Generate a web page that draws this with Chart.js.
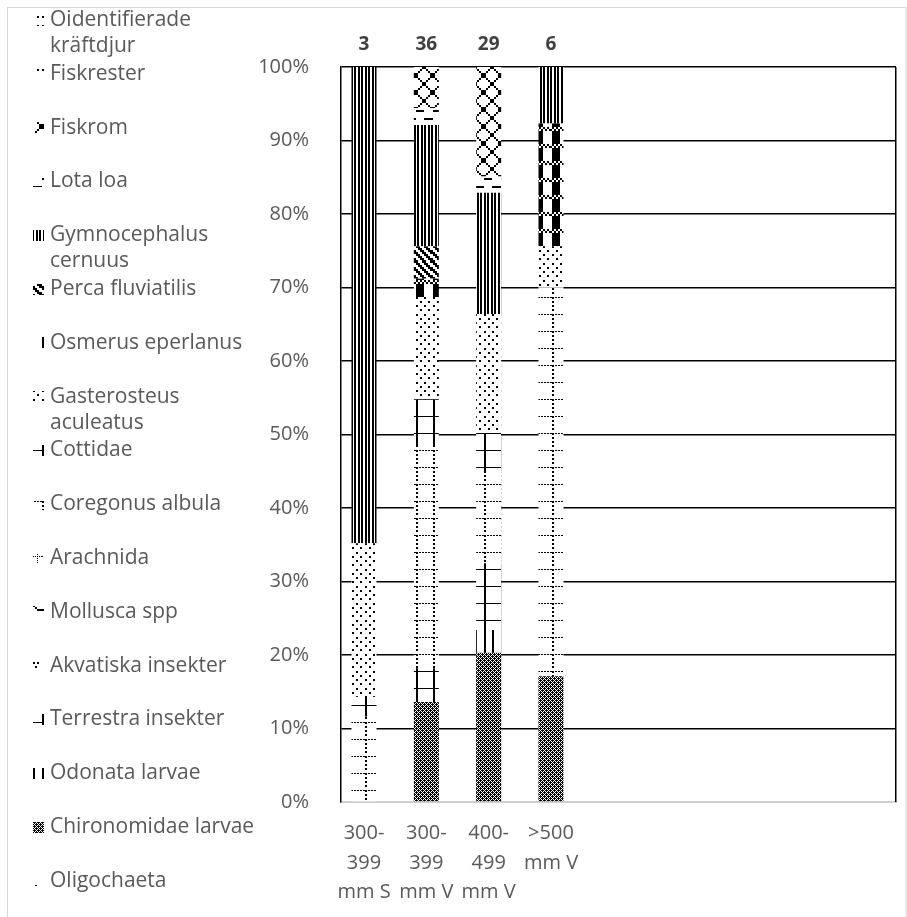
<!DOCTYPE html>
<html>
<head>
<meta charset="utf-8">
<title>Födoval per storleksklass</title>
<script src="https://cdn.jsdelivr.net/npm/chart.js@4.4.1/dist/chart.umd.min.js"></script>
<style>
  html, body { margin: 0; padding: 0; background: #fff; }
  canvas { display: block; }
</style>
</head>
<body>
<canvas id="c" width="907" height="917" style="width:907px;height:917px"></canvas>
<script>
// Size classes (x axis tick labels, one line per array entry)
const sizeClasses = [
  ['300-', '399', 'mm S'],
  ['300-', '399', 'mm V'],
  ['400-', '499', 'mm V'],
  ['>500', 'mm V']
];
// Number of stomachs per size class, printed above each bar
const sampleSizes = [3, 36, 29, 6];

// Share of diet (%) per prey group, one value per size class
const oligochaeta            = [0, 0, 0, 0];
const chironomidaeLarvae     = [0, 13.6, 20.3, 17.1];
const odonataLarvae          = [0, 0, 3.1, 0];
const terrestraInsekter      = [0, 4.6, 9.1, 0];
const akvatiskaInsekter      = [0, 0, 0, 0];
const molluscaSpp            = [0, 0, 0, 0];
const arachnida              = [0, 0, 0, 0];
const coregonusAlbula        = [11.6, 30.1, 12.4, 52.9];
const cottidae               = [2.7, 6.5, 5.3, 0];
const gasterosteusAculeatus  = [20.9, 13.9, 16.2, 5.6];
const osmerusEperlanus       = [0, 2.5, 0, 16.7];
const percaFluviatilis       = [0, 4.4, 0, 0];
const gymnocephalusCernuus   = [64.8, 16.5, 16.5, 7.7];
const lotaLoa                = [0, 2.3, 2.2, 0];
const fiskrom                = [0, 5.6, 14.9, 0];
const fiskrester             = [0, 0, 0, 0];
const oidentifieradeKraftdjur = [0, 0, 0, 0];

// Stack order, bottom to top
const seriesNames = [
  'Oligochaeta', 'Chironomidae larvae', 'Odonata larvae', 'Terrestra insekter',
  'Akvatiska insekter', 'Mollusca spp', 'Arachnida', 'Coregonus albula', 'Cottidae',
  'Gasterosteus aculeatus', 'Osmerus eperlanus', 'Perca fluviatilis',
  'Gymnocephalus cernuus', 'Lota loa', 'Fiskrom', 'Fiskrester', 'Oidentifierade kräftdjur'
];
const seriesValues = [
  oligochaeta, chironomidaeLarvae, odonataLarvae, terrestraInsekter,
  akvatiskaInsekter, molluscaSpp, arachnida, coregonusAlbula, cottidae,
  gasterosteusAculeatus, osmerusEperlanus, percaFluviatilis,
  gymnocephalusCernuus, lotaLoa, fiskrom, fiskrester, oidentifieradeKraftdjur
];

const canvas = document.getElementById('c');
const ctx = canvas.getContext('2d');

// ---- black & white fill patterns ----
function finishPattern(tile) {
  const p = ctx.createPattern(tile, 'repeat');
  p.setTransform(new DOMMatrix([1, 0, 0, 1, 8, 8]));
  return p;
}
// 8x8 bitmap enlarged to `size` pixels with nearest-neighbour steps
function bitmapPattern(rows, size) {
  const t = document.createElement('canvas');
  t.width = t.height = size;
  const g = t.getContext('2d');
  g.fillStyle = '#fff'; g.fillRect(0, 0, size, size);
  g.fillStyle = '#000';
  const n = rows.length, m = rows[0].length;
  rows.forEach((row, r) => {
    for (let k = 0; k < m; k++) {
      if (row[k] !== '1') continue;
      const x0 = Math.floor(k * size / m), x1 = Math.floor((k + 1) * size / m);
      const y0 = Math.floor(r * size / n), y1 = Math.floor((r + 1) * size / n);
      g.fillRect(x0, y0, x1 - x0, y1 - y0);
    }
  });
  return finishPattern(t);
}
function drawnPattern(w, h, paint) {
  const t = document.createElement('canvas');
  t.width = w; t.height = h;
  const g = t.getContext('2d');
  g.fillStyle = '#fff'; g.fillRect(0, 0, w, h);
  g.fillStyle = '#000';
  paint(g);
  return finishPattern(t);
}

const largeGrid = () => drawnPattern(17, 17, g => {
  g.fillRect(0, 0, 17, 1);
  g.fillRect(0, 0, 2, 17);
});

const seriesFills = [
  // Oligochaeta
  bitmapPattern(['00000000','01000000','00000000','00000000','00000000','00000100','00000000','00000000'], 17),
  // Chironomidae larvae
  bitmapPattern(['11011101','10101010','01110111','10101010','11011101','10101010','01110111','10101010'], 8),
  // Odonata larvae
  bitmapPattern(['10001000','10001000','10001000','10001000','10001000','10001000','10001000','10001000'], 17),
  // Terrestra insekter
  largeGrid(),
  // Akvatiska insekter
  bitmapPattern(['10100000','00000000','01000000','00000000','00001010','00000000','00000100','00000000'], 17),
  // Mollusca spp
  bitmapPattern(['00000000','00111000','01000100','10000011','00000000','00000000','00000000','00000000'], 17),
  // Arachnida
  drawnPattern(17, 17, g => {
    for (let x = 0; x < 17; x += 2) g.fillRect(x, 4, 1, 1);
    for (let y = 0; y < 17; y += 2) g.fillRect(12, y, 1, 1);
  }),
  // Coregonus albula
  drawnPattern(17, 17, g => {
    for (let x = 3; x < 17; x += 3) g.fillRect(x, 0, 2, 1);
    for (let y = 0; y < 16; y += 4) g.fillRect(0, y, 2, 2);
  }),
  // Cottidae
  largeGrid(),
  // Gasterosteus aculeatus
  bitmapPattern(['10001000','00000000','00100010','00000000','10001000','00000000','00100010','00000000'], 17),
  // Osmerus eperlanus
  bitmapPattern(['10101010','01010101','11110000','11110000','11110000','11110000','11110000','11110000'], 17),
  // Perca fluviatilis
  bitmapPattern(['11001100','01100110','00110011','10011001','11001100','01100110','00110011','10011001'], 17),
  // Gymnocephalus cernuus
  drawnPattern(7, 7, g => { g.fillRect(0, 0, 2, 7); g.fillRect(3, 0, 2, 7); }),
  // Lota loa
  bitmapPattern(['11110000','00000000','00000000','00000000','00001111','00000000','00000000','00000000'], 17),
  // Fiskrom
  bitmapPattern(['10000001','01000010','00100100','00011000','00011000','00100100','01000010','10000001'], 17),
  // Fiskrester
  bitmapPattern(['00000000','00010000','00000000','00000000','00000000','10000010','00000000','00000000'], 17),
  // Oidentifierade kräftdjur
  bitmapPattern(['10000010','00000000','00010000','00000000','10000010','00000000','00010000','00000000'], 17)
];

const textGray = '#595959';
const fontFamily = "'Open Sans', 'Liberation Sans', sans-serif";

// ---- decorations ----
const frame = {
  id: 'frame',
  beforeDraw(chart) {
    const g = chart.ctx;
    g.save();
    g.fillStyle = '#fff';
    g.fillRect(0, 0, chart.width, chart.height);
    g.strokeStyle = '#d9d9d9';
    g.lineWidth = 1;
    g.strokeRect(7.5, 7.5, 898.5, 1000);
    g.restore();
  },
  beforeDatasetsDraw(chart) {
    const { ctx: g, chartArea: a } = chart;
    g.save();
    g.strokeStyle = '#000';
    g.lineWidth = 1.5;
    const x = Math.round(a.right - 0.75) + 0.75;
    g.beginPath();
    g.moveTo(x, a.top);
    g.lineTo(x, a.bottom);
    g.stroke();
    g.restore();
  }
};

const sampleLabels = {
  id: 'sampleLabels',
  afterDatasetsDraw(chart) {
    const g = chart.ctx, xs = chart.scales.x, a = chart.chartArea;
    g.save();
    g.font = `bold 19px ${fontFamily}`;
    g.fillStyle = '#404040';
    g.textAlign = 'center';
    g.textBaseline = 'middle';
    sampleSizes.forEach((n, i) => {
      g.fillText(String(n), xs.getPixelForValue(i), a.top - 22);
    });
    g.restore();
  }
};

function wrapWords(g, text, maxWidth) {
  const words = text.split(' ');
  const lines = [];
  let line = '';
  words.forEach(w => {
    const test = line ? line + ' ' + w : w;
    if (line && g.measureText(test).width > maxWidth) {
      lines.push(line);
      line = w;
    } else {
      line = test;
    }
  });
  if (line) lines.push(line);
  return lines;
}

const sideLegend = {
  id: 'sideLegend',
  afterDraw(chart) {
    const g = chart.ctx;
    g.save();
    g.font = `21px ${fontFamily}`;
    g.textAlign = 'left';
    g.textBaseline = 'middle';
    const order = chart.data.datasets.map((d, i) => i).reverse();
    order.forEach((di, row) => {
      const ds = chart.data.datasets[di];
      const y = 20 + row * 53.8;
      g.fillStyle = ds.backgroundColor;
      g.fillRect(33, Math.round(y - 5.5), 11, 11);
      g.fillStyle = textGray;
      wrapWords(g, ds.label, 215).forEach((ln, k) => g.fillText(ln, 50, y + k * 26));
    });
    g.restore();
  }
};

// ---- chart ----
const datasets = seriesNames.map((name, i) => ({
  label: name,
  data: seriesValues[i].map((v, j) => ({ x: j, y: v })),
  backgroundColor: seriesFills[i],
  borderWidth: 0,
  barThickness: 25,
  inflateAmount: 0
}));

new Chart(ctx, {
  type: 'bar',
  data: { datasets },
  plugins: [frame, sampleLabels, sideLegend],
  options: {
    responsive: false,
    animation: false,
    events: [],
    layout: { padding: { left: 0, right: 11, top: 67, bottom: 0 } },
    plugins: {
      legend: { display: false },
      tooltip: { enabled: false },
      title: { display: false }
    },
    scales: {
      x: {
        type: 'linear',
        stacked: true,
        offset: false,
        min: -0.369,
        max: 8.535,
        grid: { display: false, drawTicks: false, offset: false },
        border: { display: true, color: '#cfcfcf', width: 2 },
        afterBuildTicks(scale) {
          scale.ticks = sizeClasses.map((_, i) => ({ value: i }));
        },
        afterFit(scale) { scale.height = 115; },
        ticks: {
          autoSkip: false,
          maxRotation: 0,
          minRotation: 0,
          padding: 17,
          color: textGray,
          font: { family: fontFamily, size: 20, lineHeight: 1.475 },
          callback: (value) => sizeClasses[value]
        }
      },
      y: {
        stacked: true,
        min: 0,
        max: 100,
        grid: {
          drawTicks: false,
          lineWidth: 1.5,
          color: (c) => (c.tick && c.tick.value === 0 ? 'rgba(0,0,0,0)' : '#000')
        },
        border: { display: true, color: '#000', width: 1.5 },
        afterFit(scale) { scale.width = 341; },
        ticks: {
          stepSize: 10,
          padding: 32,
          color: textGray,
          font: { family: fontFamily, size: 20 },
          callback: (v) => v + '%'
        }
      }
    }
  }
});
</script>
</body>
</html>
